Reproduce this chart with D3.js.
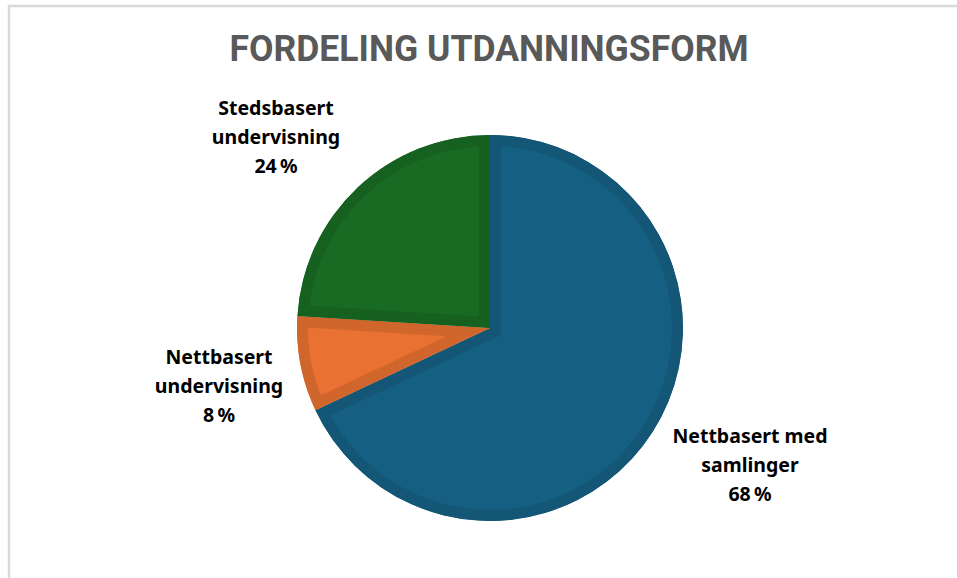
<!DOCTYPE html>
<html>
<head>
<meta charset="utf-8">
<script src="https://cdn.jsdelivr.net/npm/d3@7"></script>
<style>
  body { margin: 0; background: #fff; }
  svg { display: block; }
</style>
</head>
<body>
<div id="chart"></div>
<script>
// Fordeling utdanningsform - pie chart
const categories = ["Nettbasert med samlinger", "Nettbasert undervisning", "Stedsbasert undervisning"];
const values = [68, 8, 24];
const labelLines = [["Nettbasert med", "samlinger"], ["Nettbasert", "undervisning"], ["Stedsbasert", "undervisning"]];
const colors = ["#156082", "#E97132", "#196B24"];

const width = 957;
const height = 578;
const cx = 490, cy = 328, radius = 193;

// label anchor positions (centre of first line)
const labelPos = [[750, 436], [219, 357], [276, 108]];

const data = categories.map(function(c, i) {
    return {name: c, value: values[i], lines: labelLines[i], color: colors[i], pos: labelPos[i]};
});

const svg = d3.select("#chart")
    .append("svg")
    .attr("width", width)
    .attr("height", height);

// chart frame
svg.append("path")
    .attr("d", `M9,${height} V6 H${width}`)
    .attr("fill", "none")
    .attr("stroke", "#d9d9d9")
    .attr("stroke-width", 2.5);

const title = svg.append("text")
    .attr("x", 489)
    .attr("y", 61)
    .attr("text-anchor", "middle")
    .style("font-family", "'Liberation Sans Narrow', 'Roboto', sans-serif")
    .style("font-weight", "bold")
    .style("font-size", "36px")
    .style("fill", "#595959")
    .text("FORDELING UTDANNINGSFORM");
title.attr("textLength", 519).attr("lengthAdjust", "spacingAndGlyphs");

const pie = d3.pie()
    .value(function(d) { return d.value; })
    .sort(null);

const arc = d3.arc()
    .innerRadius(0)
    .outerRadius(radius);

const g = svg.append("g")
    .attr("transform", `translate(${cx},${cy})`);

const defs = svg.append("defs");
const arcs = pie(data);

arcs.forEach(function(d, i) {
    defs.append("clipPath")
        .attr("id", `clip-${i}`)
        .append("path")
        .attr("d", arc(d));
});

g.selectAll("path.slice")
    .data(arcs)
    .enter()
    .append("path")
        .attr("class", "slice")
        .attr("d", arc)
        .attr("clip-path", function(d, i) { return `url(#clip-${i})`; })
        .attr("fill", function(d) { return d.data.color; })
        .attr("stroke", function(d) { return d3.color(d.data.color).darker(0.3); })
        .attr("stroke-width", 22)
        .attr("stroke-linejoin", "miter");

const labels = svg.selectAll("text.label")
    .data(data)
    .enter()
    .append("text")
        .attr("class", "label")
        .attr("text-anchor", "middle")
        .style("font-family", "'Noto Sans', 'Open Sans', sans-serif")
        .style("font-weight", "bold")
        .style("font-size", "19.5px")
        .style("fill", "#000");

labels.each(function(d) {
    const t = d3.select(this);
    const lines = d.lines.concat([d.value + "\u2009%"]);
    lines.forEach(function(l, j) {
        t.append("tspan")
            .attr("x", d.pos[0])
            .attr("y", d.pos[1] + 7 + j * 29)
            .text(l);
    });
});
</script>
</body>
</html>
